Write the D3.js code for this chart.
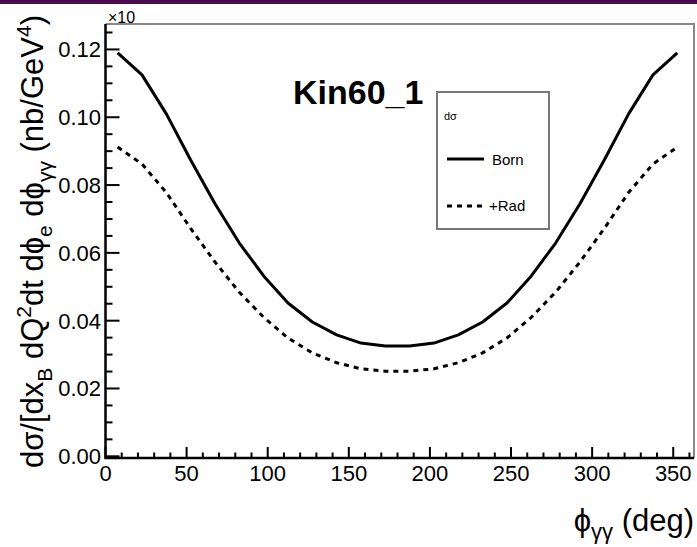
<!DOCTYPE html>
<html lang="en">
<head>
  <meta charset="UTF-8">
  <style>
    html, body { margin: 0; padding: 0; background: #fff; }
    svg { display: block; }
    text { font-family: "Liberation Sans", Arial, sans-serif; fill: #000; }
    .tick-label { font-size: 22px; }
    .axis-title { font-size: 31px; }
  </style>
  <script src="https://d3js.org/d3.v7.min.js"></script>
</head>
<body>
  <svg id="chart" width="697" height="547"></svg>

  <script>
    // phi_gg bin centres (deg)
    const phi = [7.5, 22.5, 37.5, 52.5, 67.5, 82.5, 97.5, 112.5, 127.5, 142.5, 157.5, 172.5,
                 187.5, 202.5, 217.5, 232.5, 247.5, 262.5, 277.5, 292.5, 307.5, 322.5, 337.5, 352.5];

    // Born cross section
    const born = [0.1190, 0.1125, 0.1010, 0.0874, 0.0745, 0.0629, 0.0532, 0.0452, 0.0396, 0.0358, 0.0334, 0.0325,
                  0.0325, 0.0334, 0.0358, 0.0396, 0.0452, 0.0532, 0.0629, 0.0745, 0.0874, 0.1010, 0.1125, 0.1190];

    // with radiative corrections
    const rad = [0.0912, 0.0862, 0.0778, 0.0672, 0.0573, 0.0484, 0.0410, 0.0349, 0.0305, 0.0276, 0.0258, 0.0251,
                 0.0251, 0.0258, 0.0276, 0.0305, 0.0349, 0.0410, 0.0484, 0.0573, 0.0672, 0.0778, 0.0862, 0.0912];

    const xTicks = [0, 50, 100, 150, 200, 250, 300, 350];
    const yTicks = [0.00, 0.02, 0.04, 0.06, 0.08, 0.10, 0.12];

    const svg = d3.select("#chart");

    // frame
    const fLeft = 105.5, fRight = 694, fTop = 24, fBottom = 458;

    const x = d3.scaleLinear().domain([0, 362.8]).range([fLeft, fRight]);
    const y = d3.scaleLinear().domain([-0.0005, 0.1275]).range([fBottom, fTop]);

    // purple strip at the very top
    svg.append("rect").attr("x", 0).attr("y", 0).attr("width", 697).attr("height", 4)
      .attr("fill", "#4a0b4f");

    // frame top/right (grey)
    svg.append("path")
      .attr("d", `M${fLeft},${fTop}H${fRight}V${fBottom}`)
      .attr("fill", "none").attr("stroke", "#888").attr("stroke-width", 2);

    // ticks
    const xMinor = d3.range(0, 361, 10);
    const yMinor = d3.range(0, 0.1276, 0.005);

    const gx = svg.append("g");
    gx.selectAll("line").data(xMinor).enter().append("line")
      .attr("x1", d => x(d)).attr("x2", d => x(d))
      .attr("y1", fBottom).attr("y2", d => fBottom - (d % 50 === 0 ? 11 : 5.5))
      .attr("stroke", "#000").attr("stroke-width", 2);
    gx.selectAll("text").data(xTicks).enter().append("text")
      .attr("class", "tick-label")
      .attr("x", d => x(d)).attr("y", 481)
      .attr("text-anchor", "middle")
      .text(d => d);

    const gy = svg.append("g");
    gy.selectAll("line").data(yMinor).enter().append("line")
      .attr("x1", fLeft).attr("x2", (d, i) => fLeft + (i % 4 === 0 ? 14 : 7))
      .attr("y1", d => y(d)).attr("y2", d => y(d))
      .attr("stroke", "#000").attr("stroke-width", 2);
    gy.selectAll("text").data(yTicks).enter().append("text")
      .attr("class", "tick-label")
      .attr("x", 101).attr("y", d => y(d) + 8)
      .attr("text-anchor", "end")
      .text(d => d.toFixed(2));

    // axes lines
    svg.append("path")
      .attr("d", `M${fLeft},${fTop}V${fBottom}H${fRight}`)
      .attr("fill", "none").attr("stroke", "#000").attr("stroke-width", 2.5);

    // x10 exponent (clipped at top)
    svg.append("text").attr("x", 108).attr("y", 23)
      .attr("font-size", 16).attr("fill", "#333").text("×10");

    // curves
    const line = d3.line().x(d => x(d[0])).y(d => y(d[1]));
    svg.append("path")
      .datum(phi.map((p, i) => [p, born[i]]))
      .attr("d", line)
      .attr("fill", "none").attr("stroke", "#000").attr("stroke-width", 3)
      .attr("stroke-linejoin", "round");
    svg.append("path")
      .datum(phi.map((p, i) => [p, rad[i]]))
      .attr("d", line)
      .attr("fill", "none").attr("stroke", "#000").attr("stroke-width", 3)
      .attr("stroke-dasharray", "5,5");

    // title
    svg.append("text").attr("x", 293).attr("y", 104)
      .attr("font-size", 34).attr("font-weight", "bold")
      .text("Kin60_1");

    // legend
    const lg = svg.append("g");
    lg.append("rect").attr("x", 437).attr("y", 92).attr("width", 112).attr("height", 137)
      .attr("fill", "#fff").attr("stroke", "#777").attr("stroke-width", 2);
    lg.append("text").attr("x", 444).attr("y", 120).attr("font-size", 11).text("dσ");
    lg.append("line").attr("x1", 447).attr("x2", 484).attr("y1", 159).attr("y2", 159)
      .attr("stroke", "#000").attr("stroke-width", 3);
    lg.append("text").attr("x", 492).attr("y", 165).attr("font-size", 15).text("Born");
    lg.append("line").attr("x1", 447).attr("x2", 484).attr("y1", 206).attr("y2", 206)
      .attr("stroke", "#000").attr("stroke-width", 3).attr("stroke-dasharray", "5,5");
    lg.append("text").attr("x", 489).attr("y", 211).attr("font-size", 15).text("+Rad");

    // y title
    const yt = svg.append("text")
      .attr("class", "axis-title")
      .attr("transform", "translate(43,15) rotate(-90)")
      .attr("text-anchor", "end");
    yt.append("tspan").text("dσ/[dx");
    yt.append("tspan").attr("dy", 9).attr("font-size", 21).text("B");
    yt.append("tspan").attr("dy", -9).text(" dQ");
    yt.append("tspan").attr("dy", -12).attr("font-size", 21).text("2");
    yt.append("tspan").attr("dy", 12).text("dt dϕ");
    yt.append("tspan").attr("dy", 9).attr("font-size", 21).text("e");
    yt.append("tspan").attr("dy", -9).text(" dϕ");
    yt.append("tspan").attr("dy", 9).attr("font-size", 21).text("γγ");
    yt.append("tspan").attr("dy", -9).text(" (nb/GeV");
    yt.append("tspan").attr("dy", -12).attr("font-size", 21).text("4");
    yt.append("tspan").attr("dy", 12).text(")");

    // x title
    const xt = svg.append("text")
      .attr("class", "axis-title")
      .attr("x", 694).attr("y", 531)
      .attr("font-size", 33)
      .attr("text-anchor", "end");
    xt.append("tspan").text("ϕ");
    xt.append("tspan").attr("dy", 8).attr("font-size", 22).text("γγ");
    xt.append("tspan").attr("dy", -8).text(" (deg)");
  </script>
</body>
</html>
